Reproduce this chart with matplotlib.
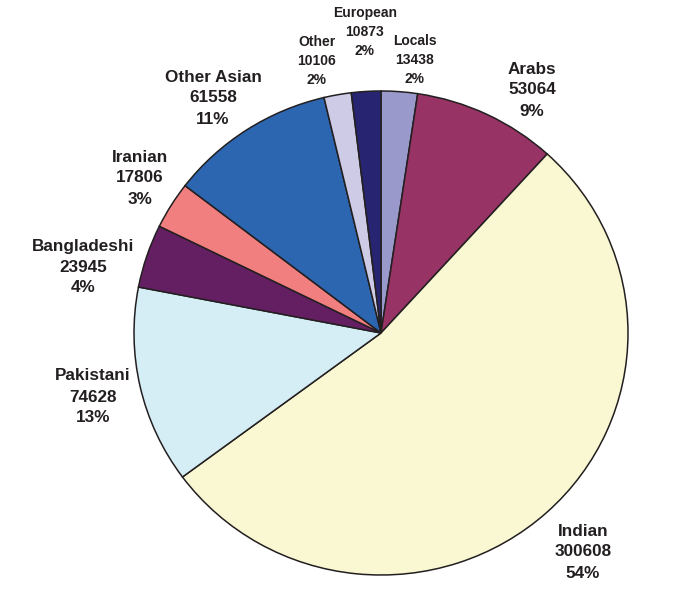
import matplotlib
matplotlib.use("Agg")
import matplotlib.pyplot as plt

categories = ["Locals", "Arabs", "Indian", "Pakistani", "Bangladeshi",
              "Iranian", "Other Asian", "Other", "European"]
values = [13438, 53064, 300608, 74628, 23945, 17806, 61558, 10106, 10873]
percents = [2, 9, 54, 13, 4, 3, 11, 2, 2]
colors = ["#9A99CB", "#983366", "#FAF8D2", "#D5EDF4", "#641F63",
          "#F27F80", "#2C66B1", "#CDCBE6", "#272571"]

# label block centres in pixel coordinates (x, y from top) and font sizes
label_px = [(415, 60), (532, 90), (583, 552), (93, 397), (83, 267),
            (140, 178), (213, 98), (317, 61), (365, 32)]
label_size = [10, 12.3, 12.3, 12.3, 12.3, 12.3, 12.3, 10, 10]

W, H = 698, 606
CX, CY, RX, RY = 381, 333, 247, 242

fig = plt.figure(figsize=(W / 100, H / 100), dpi=100)
ax = fig.add_axes([0, 0, 1, 1])
ax.pie(values, colors=colors, startangle=90, counterclock=False,
       radius=1, center=(0, 0),
       wedgeprops=dict(edgecolor="#231F20", linewidth=1.1))
ax.set_aspect("auto")
ax.set_xlim((0 - CX) / RX, (W - CX) / RX)
ax.set_ylim((CY - H) / RY, (CY - 0) / RY)
ax.axis("off")

for cat, val, pct, (px, py), fs in zip(categories, values, percents,
                                       label_px, label_size):
    x = (px - CX) / RX
    y = (CY - py) / RY
    ax.text(x, y, f"{cat}\n{val}\n{pct}%", ha="center", va="center",
            multialignment="center", fontsize=fs, fontweight="bold",
            family=["Liberation Sans", "DejaVu Sans"], color="#231F20",
            linespacing=1.5 if fs > 11 else 1.46)

fig.savefig("out.png", dpi=100)
